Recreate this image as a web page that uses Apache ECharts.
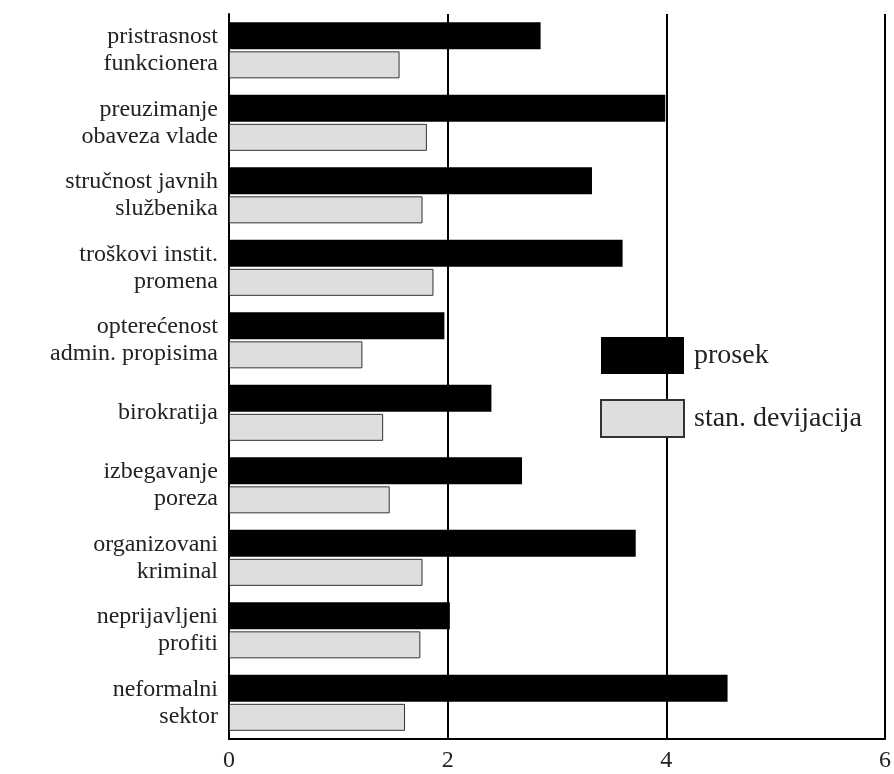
<!DOCTYPE html>
<html>
<head>
<meta charset="utf-8">
<script src="https://cdn.jsdelivr.net/npm/echarts@6/dist/echarts.min.js"></script>
<style>html,body{margin:0;padding:0;background:#fff}#c{width:894px;height:774px}</style>
</head>
<body>
<div id="c"></div>
<script>
const categories = [
  "pristrasnost\nfunkcionera",
  "preuzimanje\nobaveza vlade",
  "stručnost javnih\nslužbenika",
  "troškovi instit.\npromena",
  "opterećenost\nadmin. propisima",
  "birokratija",
  "izbegavanje\nporeza",
  "organizovani\nkriminal",
  "neprijavljeni\nprofiti",
  "neformalni\nsektor"
];
const prosek = [2.85, 3.99, 3.32, 3.60, 1.97, 2.40, 2.68, 3.72, 2.02, 4.56];
const stanDevijacija = [1.56, 1.81, 1.77, 1.87, 1.22, 1.41, 1.47, 1.77, 1.75, 1.61];
const xTicks = [0, 2, 4, 6];

const font = "'Liberation Serif', 'DejaVu Serif', serif";
const chart = echarts.init(document.getElementById('c'));
chart.setOption({
  animation: false,
  backgroundColor: '#fff',
  textStyle: { fontFamily: font },
  grid: { left: 229, right: 9, top: 14, bottom: 35 },
  legend: {
    orient: 'vertical',
    left: 595, top: 332,
    icon: 'rect',
    itemWidth: 83, itemHeight: 37, itemGap: 25,
    textStyle: { fontFamily: font, fontSize: 28, color: '#222', padding: [0, 0, 0, 5] },
    data: ['prosek', 'stan. devijacija']
  },
  xAxis: {
    type: 'value', min: xTicks[0], max: xTicks[xTicks.length - 1], interval: 2,
    axisLine: { show: true, lineStyle: { color: '#000', width: 2 } },
    axisTick: { show: false },
    splitLine: { show: true, lineStyle: { color: '#000', width: 2 } },
    axisLabel: { fontFamily: font, fontSize: 24, color: '#222', margin: 10 }
  },
  yAxis: {
    type: 'category', inverse: true, data: categories,
    axisLine: { show: true, lineStyle: { color: '#000', width: 2 } },
    axisTick: { show: false },
    axisLabel: { fontFamily: font, fontSize: 24, lineHeight: 27, color: '#222', margin: 11, align: 'right' }
  },
  series: [
    {
      name: 'prosek', type: 'bar', data: prosek, barWidth: 27, barGap: '8%',
      itemStyle: { color: '#000' }
    },
    {
      name: 'stan. devijacija', type: 'bar', data: stanDevijacija, barWidth: 27,
      itemStyle: { color: '#dedede', borderColor: '#333', borderWidth: 1 }
    }
  ]
});
</script>
</body>
</html>
